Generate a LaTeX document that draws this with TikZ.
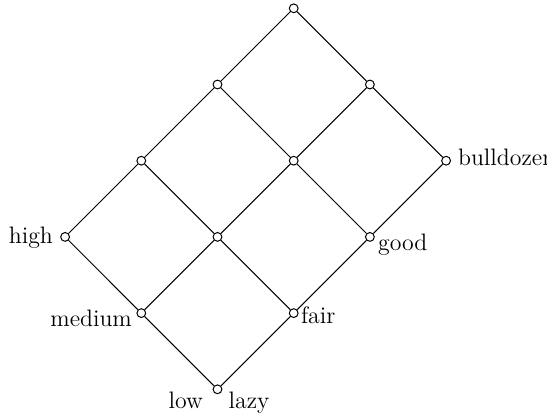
\documentclass[tikz,border=0pt]{standalone}
\begin{document}
\begin{tikzpicture}[x=0.5pt,y=-0.5pt,
  vtx/.style={circle,draw,fill=white,inner sep=0pt,minimum size=4.4pt,line width=0.5pt},
  lbl/.style={inner sep=0pt,font=\fontsize{11.9}{14.3}\selectfont},
  edge/.style={line width=0.5pt}]
\useasboundingbox (0,0) rectangle (547,419);
\node[vtx] (top) at (293.7,8.3) {};
\node[vtx] (a1) at (217.5,84.5) {};
\node[vtx] (a2) at (369.9,84.5) {};
\node[vtx] (b1) at (141.3,160.7) {};
\node[vtx] (b2) at (293.7,160.7) {};
\node[vtx] (b3) at (446.1,160.7) {};
\node[vtx] (c1) at (65.1,236.9) {};
\node[vtx] (c2) at (217.5,236.9) {};
\node[vtx] (c3) at (369.9,236.9) {};
\node[vtx] (d1) at (141.3,313.1) {};
\node[vtx] (d2) at (293.7,313.1) {};
\node[vtx] (e) at (217.5,389.3) {};
\foreach \u/\v in {top/a1,top/a2,a1/b1,a1/b2,a2/b2,a2/b3,b1/c1,b1/c2,b2/c2,b2/c3,b3/c3,c1/d1,c2/d1,c2/d2,c3/d2,d1/e,d2/e}
  \draw[edge] (\u) -- (\v);
\node[lbl,anchor=base east] (lhigh) at ([shift={(-11.8,6.4)}]c1.center) {high};
\node[lbl,anchor=base east] (lmedium) at ([shift={(-9,13.6)}]d1.center) {medium};
\node[lbl,anchor=base east] (llow) at ([shift={(-14.2,18.7)}]e.center) {low};
\node[lbl,anchor=base west] (llazy) at ([shift={(10.8,18.7)}]e.center) {lazy};
\node[lbl,anchor=base west] (lfair) at ([shift={(7,10.2)}]d2.center) {fair};
\node[lbl,anchor=base west] (lgood) at ([shift={(7.8,13.1)}]c3.center) {good};
\node[lbl,anchor=base west] (lbull) at ([shift={(11.6,5)}]b3.center) {bulldozer};
\end{tikzpicture}
\end{document}
